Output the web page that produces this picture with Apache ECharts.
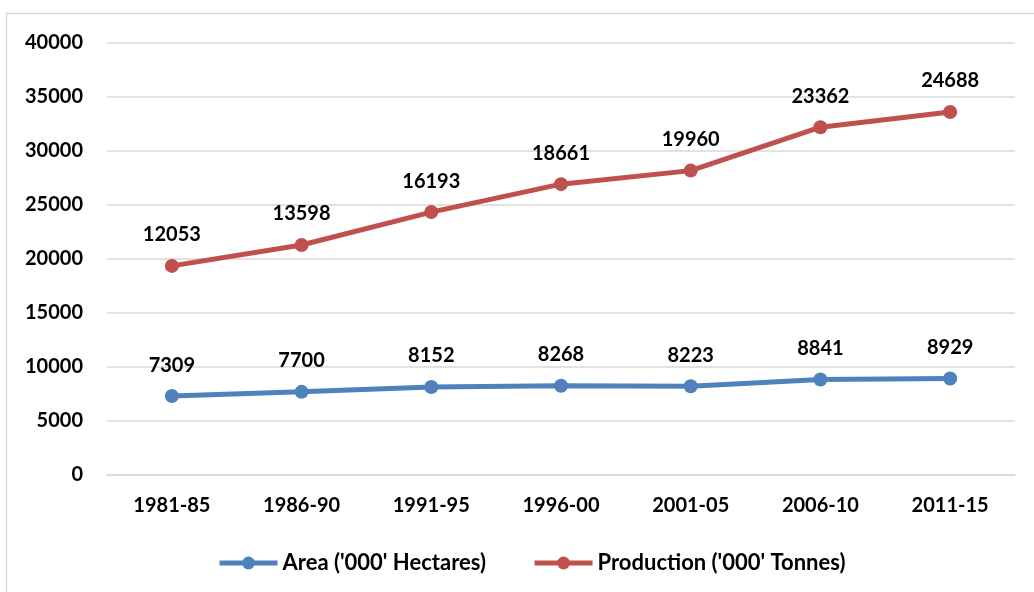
<!DOCTYPE html>
<html><head><meta charset="utf-8">
<script src="https://cdn.jsdelivr.net/npm/echarts@6/dist/echarts.min.js"></script>
<style>html,body{margin:0;padding:0;background:#fff}#c{width:1034px;height:592px}</style>
</head><body><div id="c"></div>
<script>
const categories = ['1981-85','1986-90','1991-95','1996-00','2001-05','2006-10','2011-15'];
const areaValues = [7309, 7700, 8152, 8268, 8223, 8841, 8929];
const productionValues = [12053, 13598, 16193, 18661, 19960, 23362, 24688];
const seriesNames = ["Area ('000' Hectares)", "Production ('000' Tonnes)"];
const yTicks = {min: 0, max: 40000, interval: 5000};

const font = 'Lato, "Liberation Sans", sans-serif';
const txt = {color: '#000', fontFamily: font, fontWeight: 'bold', fontSize: 20};
const legTxt = {color: '#000', fontFamily: font, fontWeight: 'bold', fontSize: 22};
const chart = echarts.init(document.getElementById('c'), null, {renderer: 'canvas'});
const lbl = Object.assign({show: true, position: 'top', distance: 14, formatter: '{c}'}, txt);
const colors = ['#4F81BD', '#C0504D'];
chart.setOption({
  animation: false,
  backgroundColor: '#fff',
  graphic: [{type: 'rect', shape: {x: 6.5, y: 13.5, width: 1100, height: 700}, style: {fill: 'none', stroke: '#d9d9d9', lineWidth: 1.5}}],
  grid: {left: 107, right: 19, top: 43, bottom: 117},
  legend: {
    left: 212, top: 547, itemWidth: 58, itemHeight: 16, itemGap: 46, itemTextGap: 3,
    textStyle: Object.assign({}, legTxt),
    data: seriesNames.map((n, i) => ({name: n, textStyle: Object.assign({}, legTxt), itemStyle: {color: colors[i]}, lineStyle: {width: 5, color: colors[i]}}))
  },
  xAxis: {
    type: 'category', data: categories, boundaryGap: true,
    axisLine: {lineStyle: {color: '#d9d9d9', width: 1.5}}, axisTick: {show: false},
    axisLabel: Object.assign({margin: 21}, txt)
  },
  yAxis: {
    type: 'value', min: yTicks.min, max: yTicks.max, interval: yTicks.interval,
    axisLine: {show: false}, axisTick: {show: false},
    splitLine: {lineStyle: {color: '#d9d9d9', width: 1.5}},
    axisLabel: Object.assign({margin: 24, formatter: v => String(v)}, txt)
  },
  series: [
    {name: seriesNames[0], type: 'line', stack: 'total', data: areaValues, symbol: 'circle', symbolSize: 14,
     color: colors[0], lineStyle: {width: 5, color: colors[0]}, itemStyle: {color: colors[0]}, label: lbl},
    {name: seriesNames[1], type: 'line', stack: 'total', data: productionValues, symbol: 'circle', symbolSize: 14,
     color: colors[1], lineStyle: {width: 5, color: colors[1]}, itemStyle: {color: colors[1]}, label: lbl}
  ]
});
</script></body></html>
